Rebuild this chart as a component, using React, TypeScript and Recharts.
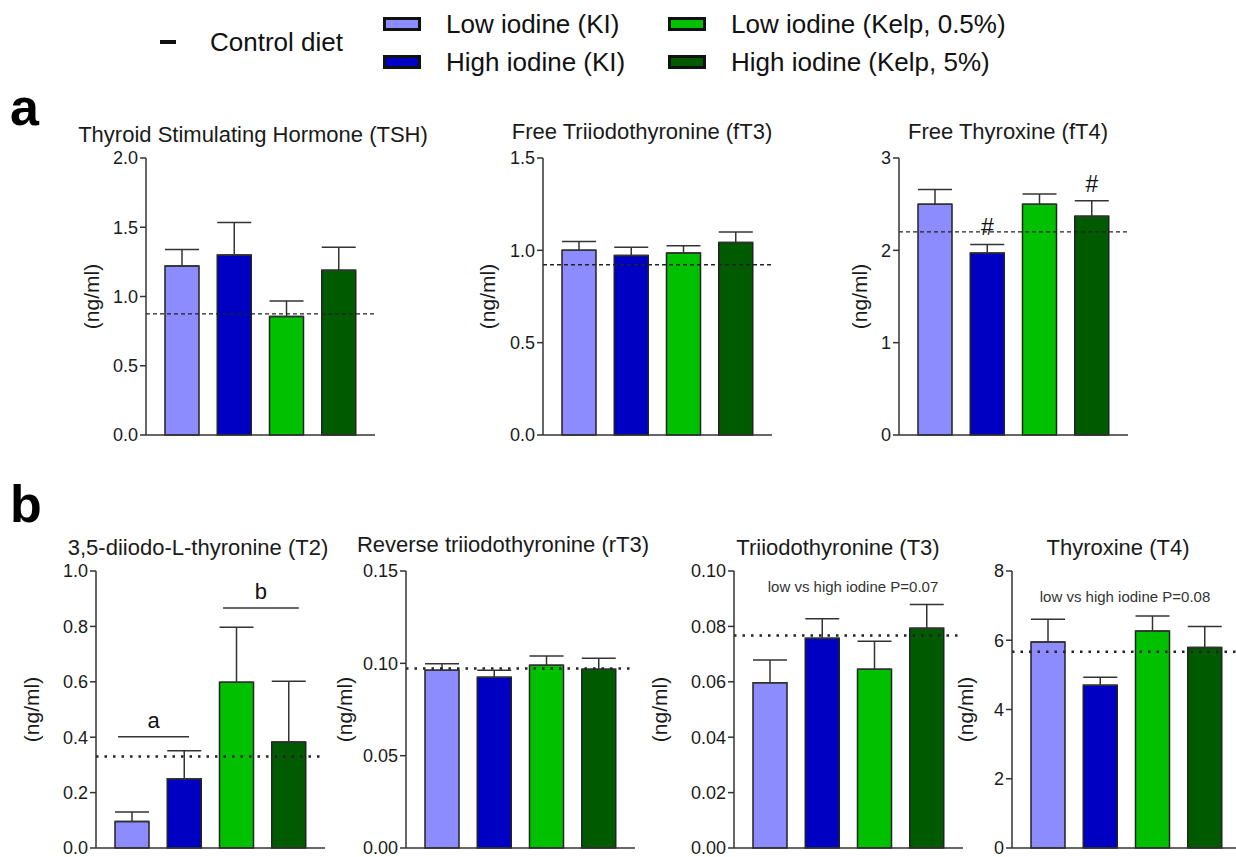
import React from 'react';
import { BarChart, Bar, Cell, XAxis, YAxis, ErrorBar, ReferenceLine, ReferenceDot } from 'recharts';

const GROUPS = ['Low iodine (KI)', 'High iodine (KI)', 'Low iodine (Kelp, 0.5%)', 'High iodine (Kelp, 5%)'];
const COLORS = ['#8c8cff', '#0000c2', '#00c000', '#005a00'];
const SLOTS = [0.5, 1.5, 2.5, 3.5];

// panel a
const TSH_MEAN = [1.22, 1.3, 0.855, 1.19];
const TSH_SEM = [0.12, 0.235, 0.113, 0.165];
const TSH_CONTROL = 0.875;

const FT3_MEAN = [1.0, 0.972, 0.985, 1.042];
const FT3_SEM = [0.048, 0.045, 0.04, 0.057];
const FT3_CONTROL = 0.922;

const FT4_MEAN = [2.5, 1.97, 2.5, 2.37];
const FT4_SEM = [0.16, 0.094, 0.11, 0.166];
const FT4_CONTROL = 2.2;
const FT4_MARKS = ['', '#', '', '#'];

// panel b
const T2_MEAN = [0.096, 0.25, 0.598, 0.383];
const T2_SEM = [0.034, 0.101, 0.199, 0.219];
const T2_CONTROL = 0.33;
const T2_BRACKETS = [
  { label: 'a', from: 0.23, to: 1.59, y: 0.402 },
  { label: 'b', from: 2.24, to: 3.69, y: 0.866 },
];

const RT3_MEAN = [0.0962, 0.0925, 0.099, 0.0968];
const RT3_SEM = [0.0036, 0.0037, 0.005, 0.006];
const RT3_CONTROL = 0.0972;

const T3_MEAN = [0.0597, 0.0757, 0.0645, 0.0793];
const T3_SEM = [0.0082, 0.0071, 0.0101, 0.0086];
const T3_CONTROL = 0.0767;

const T4_MEAN = [5.95, 4.7, 6.27, 5.79];
const T4_SEM = [0.66, 0.23, 0.43, 0.61];
const T4_CONTROL = 5.67;

const FONT = '"Liberation Sans", Arial, sans-serif';
const Y_W = 100;
const PLOT_W = 229;
const PLOT_H = 277;
const TOP_M = 40;

type ChartProps = {
  title: string;
  mean: number[];
  sem: number[];
  control: number;
  ticks: number[];
  digits: number;
  axisX: number;
  plotTop: number;
  titleX: number;
  titleY: number;
  labelGap: number;
  dotted?: boolean;
  note?: { text: string; x: number; y: number };
  children?: React.ReactNode;
};

const HormoneChart = ({ title, mean, sem, control, ticks, digits, axisX, plotTop, titleX, titleY, labelGap, dotted, note, children }: ChartProps) => {
  const data = GROUPS.map((g, i) => ({ group: g, slot: SLOTS[i], mean: mean[i], err: [0, sem[i]] }));
  return (
    <>
      <div style={{ position: 'absolute', left: titleX - 220, top: titleY - 13, width: 440, textAlign: 'center', fontSize: 22, lineHeight: '26px', color: '#1a1a1a', fontFamily: FONT }}>
        {title}
      </div>
      {note && (
        <div style={{ position: 'absolute', left: note.x - 150, top: note.y - 9, width: 300, textAlign: 'center', fontSize: 15, lineHeight: '18px', color: '#333', fontFamily: FONT }}>
          {note.text}
        </div>
      )}
      <div style={{ position: 'absolute', left: axisX - Y_W, top: plotTop - TOP_M }}>
        <BarChart width={Y_W + PLOT_W + 10} height={TOP_M + PLOT_H + 10} data={data} margin={{ top: TOP_M, right: 10, left: 0, bottom: 5 }}>
          <XAxis dataKey="group" tick={false} tickLine={false} height={5} padding={{ left: 10, right: 10 }} axisLine={{ stroke: '#333', strokeWidth: 1.5 }} />
          <XAxis xAxisId="pos" dataKey="slot" type="number" domain={[0, 4]} allowDataOverflow hide padding={{ left: 10, right: 10 }} />
          <YAxis
            width={Y_W}
            domain={[ticks[0], ticks[ticks.length - 1]]}
            ticks={ticks}
            interval={0}
            tickFormatter={(v: number) => v.toFixed(digits)}
            tick={{ fontSize: 18, fill: '#1a1a1a', fontFamily: FONT }}
            tickSize={6}
            axisLine={{ stroke: '#333', strokeWidth: 1.5 }}
            tickLine={{ stroke: '#333', strokeWidth: 1.5 }}
            label={{ value: '(ng/ml)', angle: -90, position: 'insideLeft', offset: Y_W - labelGap, style: { textAnchor: 'middle', fontSize: 21, fill: '#1a1a1a', fontFamily: FONT } }}
          />
          <Bar dataKey="mean" barSize={34} stroke="#222" strokeWidth={1.5} isAnimationActive={false}>
            {data.map((d, i) => (
              <Cell key={d.group} fill={COLORS[i]} />
            ))}
            <ErrorBar dataKey="err" direction="y" width={17} stroke="#333" strokeWidth={1.5} isAnimationActive={false} />
          </Bar>
          <ReferenceLine
            y={control}
            stroke="#222"
            strokeWidth={dotted ? 2.5 : 1.3}
            strokeDasharray={dotted ? '2.5 6' : '4 3'}
          />
          {children}
        </BarChart>
      </div>
    </>
  );
};

const LegendSwatch = ({ x, y, color, text }: { x: number; y: number; color: string; text: string }) => (
  <>
    <div style={{ position: 'absolute', left: x, top: y - 7, width: 38, height: 14, boxSizing: 'border-box', border: '3px solid #111', background: color }} />
    <div style={{ position: 'absolute', left: x + 63, top: y - 15, fontSize: 26, lineHeight: '30px', color: '#111', fontFamily: FONT, whiteSpace: 'nowrap' }}>{text}</div>
  </>
);

export default function App() {
  return (
    <div style={{ position: 'absolute', left: 0, top: 0, width: 1236, height: 857, overflow: 'hidden', background: '#fff', fontFamily: FONT }}>
      {/* legend */}
      <div style={{ position: 'absolute', left: 160, top: 40, width: 16, height: 4, background: '#111' }} />
      <div style={{ position: 'absolute', left: 210, top: 27, fontSize: 26, lineHeight: '30px', color: '#111', whiteSpace: 'nowrap' }}>Control diet</div>
      <LegendSwatch x={383} y={24} color={COLORS[0]} text={GROUPS[0]} />
      <LegendSwatch x={383} y={62} color={COLORS[1]} text={GROUPS[1]} />
      <LegendSwatch x={668} y={24} color={COLORS[2]} text={GROUPS[2]} />
      <LegendSwatch x={668} y={62} color={COLORS[3]} text={GROUPS[3]} />

      <div style={{ position: 'absolute', left: 10, top: 77, fontSize: 52, lineHeight: '60px', fontWeight: 'bold', color: '#000' }}>a</div>
      <div style={{ position: 'absolute', left: 10, top: 474, fontSize: 52, lineHeight: '60px', fontWeight: 'bold', color: '#000' }}>b</div>

      <HormoneChart title="Thyroid Stimulating Hormone (TSH)" mean={TSH_MEAN} sem={TSH_SEM} control={TSH_CONTROL}
        ticks={[0, 0.5, 1, 1.5, 2]} digits={1} axisX={146} plotTop={158} titleX={253} titleY={135} labelGap={54} />
      <HormoneChart title="Free Triiodothyronine (fT3)" mean={FT3_MEAN} sem={FT3_SEM} control={FT3_CONTROL}
        ticks={[0, 0.5, 1, 1.5]} digits={1} axisX={543} plotTop={158} titleX={642} titleY={132} labelGap={55} />
      <HormoneChart title="Free Thyroxine (fT4)" mean={FT4_MEAN} sem={FT4_SEM} control={FT4_CONTROL}
        ticks={[0, 1, 2, 3]} digits={0} axisX={899} plotTop={158} titleX={1008} titleY={132} labelGap={39}>
        {FT4_MARKS.map((m, i) =>
          m ? (
            <ReferenceDot key={i} x={GROUPS[i]} y={FT4_MEAN[i] + FT4_SEM[i]} r={0} fill="none" stroke="none"
              label={{ value: m, position: 'top', offset: 9, fontSize: 23, fill: '#111', fontFamily: FONT }} />
          ) : null
        )}
      </HormoneChart>

      <HormoneChart title="3,5-diiodo-L-thyronine (T2)" mean={T2_MEAN} sem={T2_SEM} control={T2_CONTROL}
        ticks={[0, 0.2, 0.4, 0.6, 0.8, 1]} digits={1} axisX={96} plotTop={571} titleX={198} titleY={548} labelGap={64} dotted>
        {T2_BRACKETS.map((b) => (
          <ReferenceLine key={b.label} xAxisId="pos" segment={[{ x: b.from, y: b.y }, { x: b.to, y: b.y }]} stroke="#333" strokeWidth={1.5}
            ifOverflow="visible"
            label={{ value: b.label, position: 'top', offset: 9, fontSize: 22, fill: '#111', fontFamily: FONT }} />
        ))}
      </HormoneChart>
      <HormoneChart title="Reverse triiodothyronine (rT3)" mean={RT3_MEAN} sem={RT3_SEM} control={RT3_CONTROL}
        ticks={[0, 0.05, 0.1, 0.15]} digits={2} axisX={406} plotTop={571} titleX={503} titleY={545} labelGap={61} dotted />
      <HormoneChart title="Triiodothyronine (T3)" mean={T3_MEAN} sem={T3_SEM} control={T3_CONTROL}
        ticks={[0, 0.02, 0.04, 0.06, 0.08, 0.1]} digits={2} axisX={734} plotTop={571} titleX={838} titleY={548} labelGap={74} dotted
        note={{ text: 'low vs high iodine P=0.07', x: 853, y: 587 }} />
      <HormoneChart title="Thyroxine (T4)" mean={T4_MEAN} sem={T4_SEM} control={T4_CONTROL}
        ticks={[0, 2, 4, 6, 8]} digits={0} axisX={1012} plotTop={571} titleX={1118} titleY={548} labelGap={46} dotted
        note={{ text: 'low vs high iodine P=0.08', x: 1125, y: 597 }} />
    </div>
  );
}
